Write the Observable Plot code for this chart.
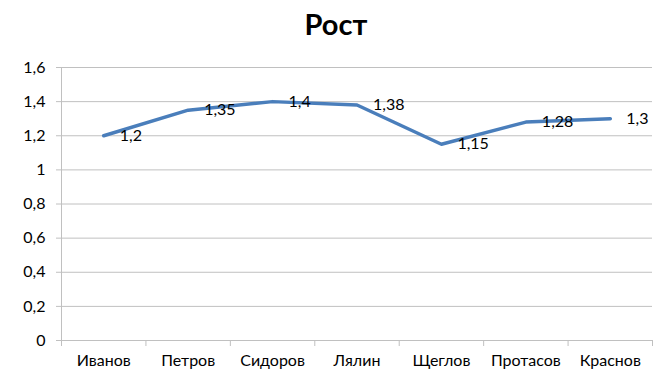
<!DOCTYPE html>
<html>
<head>
<meta charset="utf-8">
<script src="https://cdn.jsdelivr.net/npm/d3@7"></script>
<script src="https://cdn.jsdelivr.net/npm/@observablehq/plot@0.6"></script>
<style>
  body { margin: 0; background: #fff; }
  #title { width: 672px; height: 48px; line-height: 48px; text-align: center;
           font-family: Lato, sans-serif; font-weight: bold; font-size: 29px; color: #000; }
</style>
</head>
<body>
<div id="title">Рост</div>
<div id="chart"></div>
<script>
const names = ["Иванов", "Петров", "Сидоров", "Лялин", "Щеглов", "Протасов", "Краснов"];
const values = [1.2, 1.35, 1.4, 1.38, 1.15, 1.28, 1.3];
const yTicks = [0, 0.2, 0.4, 0.6, 0.8, 1, 1.2, 1.4, 1.6];

const data = names.map((name, i) => ({i, name, value: values[i]}));
const idx = names.map((_, i) => i);
const bounds = [...idx.map(i => i - 0.5), names.length - 0.5];
const fmt = v => String(Math.round(v * 100) / 100).replace(".", ",");
const grid = "#c0c0c0";

const chart = Plot.plot({
  width: 672,
  height: 336,
  marginTop: 19,
  marginBottom: 44,
  marginLeft: 61,
  marginRight: 20,
  style: {fontFamily: "Lato, sans-serif", fontSize: "16px", color: "#000", background: "#fff"},
  x: {domain: [-0.5, names.length - 0.5], axis: null},
  y: {domain: [0, 1.6], axis: null},
  marks: [
    Plot.ruleY(yTicks, {stroke: grid, strokeWidth: 1}),
    Plot.axisY({ticks: yTicks, tickSize: 5, tickPadding: 11, tickFormat: fmt, stroke: grid, fontSize: 16, label: null}),
    Plot.ruleX([-0.5], {stroke: grid}),
    Plot.axisX({ticks: bounds, tickSize: 6, tickFormat: () => "", stroke: grid, label: null}),
    Plot.axisX({ticks: idx, tickSize: 0, tickPadding: 14, tickFormat: i => names[i], fontSize: 16, label: null}),
    Plot.line(data, {x: "i", y: "value", stroke: "#4a7ebb", strokeWidth: 3.5}),
    Plot.text(data, {x: "i", y: "value", text: d => fmt(d.value), dx: 16, textAnchor: "start", fontSize: 16, fill: "#000"})
  ]
});
document.getElementById("chart").appendChild(chart);
</script>
</body>
</html>
